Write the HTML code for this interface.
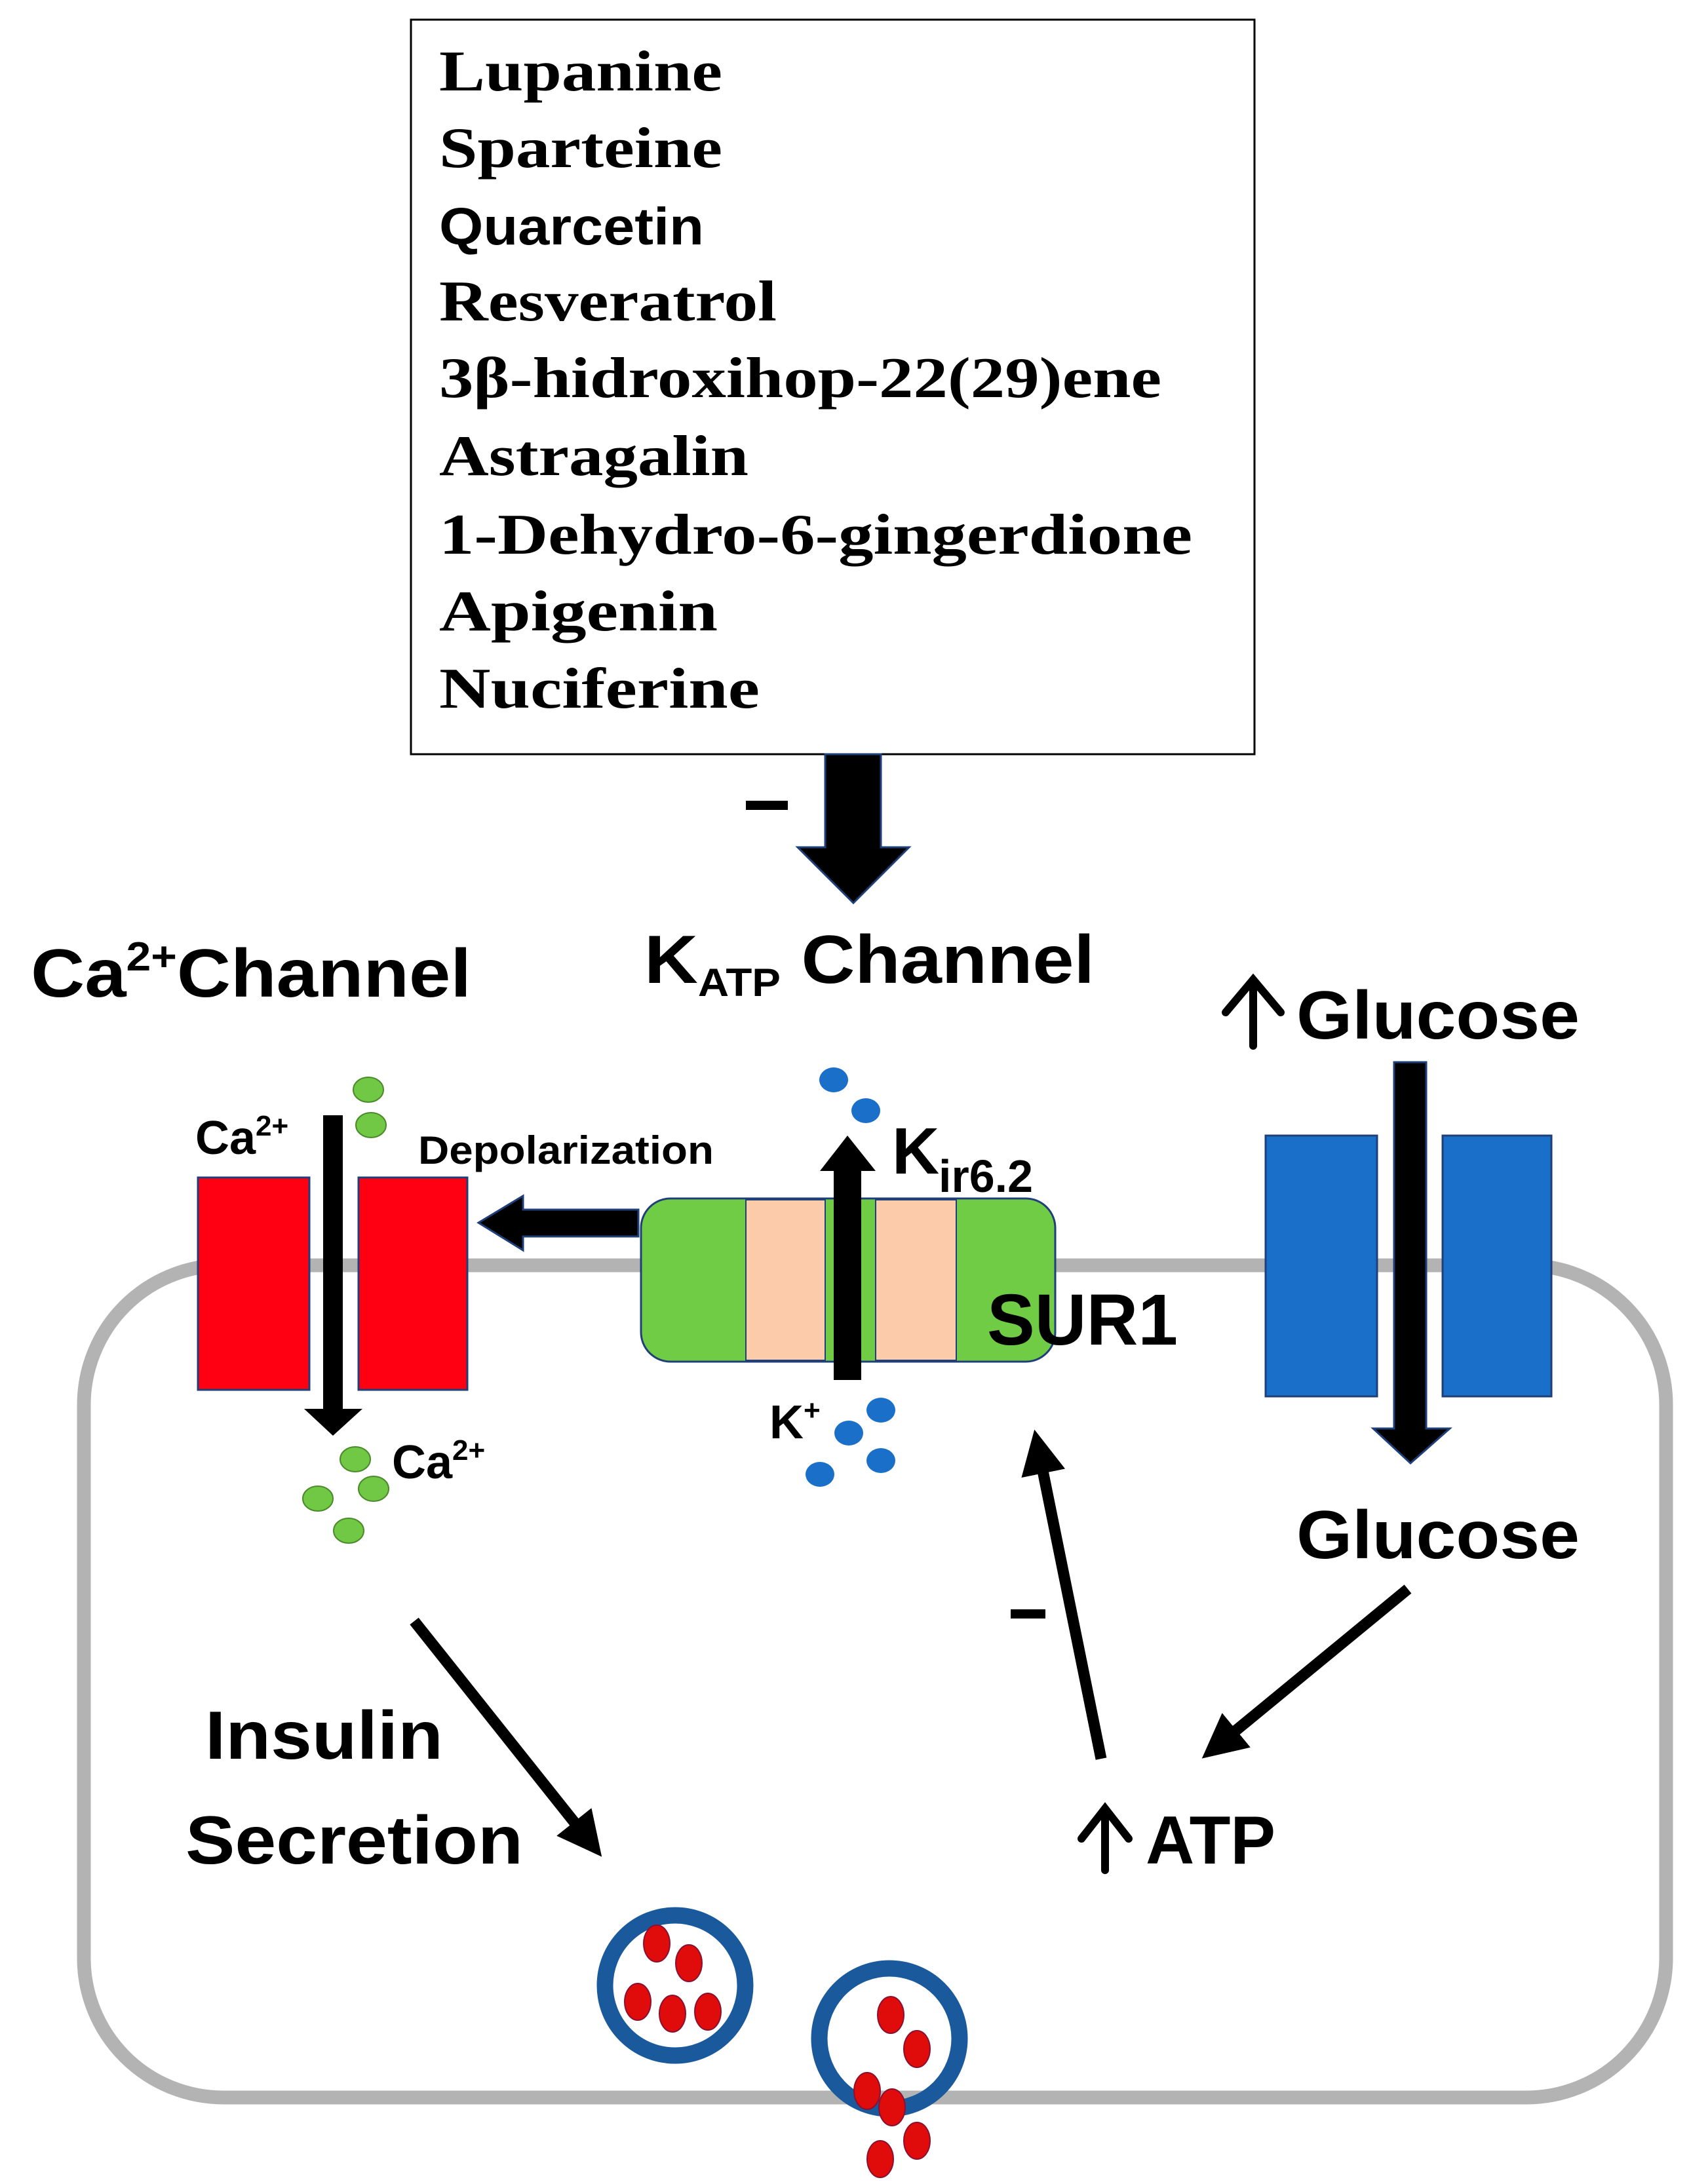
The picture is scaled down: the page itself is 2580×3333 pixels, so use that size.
<!DOCTYPE html>
<html><head><meta charset="utf-8"><style>
html,body{margin:0;padding:0;background:#fff}
svg{display:block}
.s{font-family:"Liberation Serif",serif;font-weight:bold;font-size:88px;fill:#000}
.b{font-family:"Liberation Sans",sans-serif;font-weight:bold;fill:#000}
</style></head><body>
<svg width="2580" height="3333" viewBox="0 0 2580 3333" xmlns="http://www.w3.org/2000/svg">
<rect x="627" y="30" width="1287" height="1121" fill="#fff" stroke="#000" stroke-width="3"/>
<text class="s" x="670" y="138" textLength="432" lengthAdjust="spacingAndGlyphs">Lupanine</text>
<text class="s" x="670" y="255" textLength="432" lengthAdjust="spacingAndGlyphs">Sparteine</text>
<text class="b" x="670" y="373" font-size="80" textLength="404" lengthAdjust="spacingAndGlyphs">Quarcetin</text>
<text class="s" x="670" y="489" textLength="515" lengthAdjust="spacingAndGlyphs">Resveratrol</text>
<text class="s" x="670" y="606" textLength="1102" lengthAdjust="spacingAndGlyphs">3β-hidroxihop-22(29)ene</text>
<text class="s" x="670" y="725" textLength="472" lengthAdjust="spacingAndGlyphs">Astragalin</text>
<text class="s" x="670" y="845" textLength="1149" lengthAdjust="spacingAndGlyphs">1-Dehydro-6-gingerdione</text>
<text class="s" x="670" y="962" textLength="425" lengthAdjust="spacingAndGlyphs">Apigenin</text>
<text class="s" x="670" y="1080" textLength="489" lengthAdjust="spacingAndGlyphs">Nuciferine</text>
<polygon points="1259,1151 1344,1151 1344,1293 1387,1293 1302,1378 1217,1293 1259,1293" fill="#000" stroke="#1f3f7a" stroke-width="3"/>
<rect x="1138" y="1222" width="64" height="14" fill="#000"/>
<text class="b" x="47" y="1521" font-size="104" textLength="672" lengthAdjust="spacingAndGlyphs">Ca<tspan font-size="62" dy="-40">2+</tspan><tspan dy="40">Channel</tspan></text>
<text class="b" x="983" y="1500" font-size="104" textLength="687" lengthAdjust="spacingAndGlyphs">K<tspan font-size="60" dy="20">ATP</tspan><tspan dy="-20"> Channel</tspan></text>
<g stroke="#000" stroke-width="12" fill="none" stroke-linecap="round">
<path d="M1912,1596 L1912,1495 M1870,1545 L1912,1495 L1954,1545"/>
<path d="M1686,2854 L1686,2760 M1650,2806 L1686,2760 L1722,2806"/>
</g>
<text class="b" x="1978" y="1585" font-size="104" textLength="432" lengthAdjust="spacingAndGlyphs">Glucose</text>
<rect x="128" y="1931" width="2414" height="1270" rx="213" ry="213" fill="none" stroke="#b3b3b3" stroke-width="21"/>
<rect x="302" y="1797" width="170" height="324" fill="#ff0013" stroke="#1f3f7a" stroke-width="3"/>
<rect x="547" y="1797" width="166" height="324" fill="#ff0013" stroke="#1f3f7a" stroke-width="3"/>
<polygon points="493,1702 523,1702 523,2150 553,2150 508,2191 464,2150 493,2150" fill="#000"/>
<g fill="#70c844" stroke="#4a8a2a" stroke-width="2">
<ellipse cx="562" cy="1663" rx="23" ry="19"/><ellipse cx="566" cy="1717" rx="23" ry="19"/>
<ellipse cx="542" cy="2227" rx="23" ry="19"/><ellipse cx="570" cy="2272" rx="23" ry="19"/>
<ellipse cx="485" cy="2287" rx="23" ry="19"/><ellipse cx="532" cy="2336" rx="23" ry="19"/>
</g>
<text class="b" x="298" y="1761" font-size="72">Ca<tspan font-size="44" dy="-28">2+</tspan></text>
<text class="b" x="598" y="2256" font-size="72">Ca<tspan font-size="44" dy="-28">2+</tspan></text>
<text class="b" x="638" y="1776" font-size="60" textLength="451" lengthAdjust="spacingAndGlyphs">Depolarization</text>
<polygon points="974,1846 974,1887 798,1887 798,1908 730,1866 798,1825 798,1846" fill="#000" stroke="#1f3f7a" stroke-width="3"/>
<rect x="978" y="1829" width="632" height="249" rx="45" ry="45" fill="#70cc44" stroke="#1f3f7a" stroke-width="3"/>
<rect x="1138" y="1831" width="121" height="245" fill="#fccbaa" stroke="#1f3f7a" stroke-width="2"/>
<rect x="1336" y="1831" width="123" height="245" fill="#fccbaa" stroke="#1f3f7a" stroke-width="2"/>
<polygon points="1272,2106 1314,2106 1314,1787 1336,1787 1293,1733 1251,1787 1272,1787" fill="#000"/>
<g fill="#1a6fc9">
<ellipse cx="1272" cy="1648" rx="22" ry="19"/><ellipse cx="1321" cy="1695" rx="22" ry="19"/>
<ellipse cx="1344" cy="2152" rx="22" ry="19"/><ellipse cx="1295" cy="2187" rx="22" ry="19"/>
<ellipse cx="1344" cy="2229" rx="22" ry="19"/><ellipse cx="1251" cy="2250" rx="22" ry="19"/>
</g>
<text class="b" x="1174" y="2195" font-size="72">K<tspan font-size="44" dy="-28">+</tspan></text>
<text class="b" x="1361" y="1791" font-size="100">K</text>
<text class="b" x="1432" y="1819" font-size="70">ir6.2</text>
<text class="b" x="1506" y="2052" font-size="110" textLength="291" lengthAdjust="spacingAndGlyphs">SUR1</text>
<rect x="1931" y="1733" width="170" height="398" fill="#1a6fc9" stroke="#1f3f7a" stroke-width="3"/>
<rect x="2201" y="1733" width="166" height="398" fill="#1a6fc9" stroke="#1f3f7a" stroke-width="3"/>
<polygon points="2127,1621 2176,1621 2176,2180 2212,2180 2152,2233 2095,2180 2127,2180" fill="#000" stroke="#1f3f7a" stroke-width="3"/>
<text class="b" x="1978" y="2378" font-size="104" textLength="432" lengthAdjust="spacingAndGlyphs">Glucose</text>
<defs><marker id="ah" markerWidth="4" markerHeight="4" refX="2" refY="2" orient="auto" markerUnits="strokeWidth"><path d="M0,0 L4,2 L0,4 z" fill="#000"/></marker></defs>
<line x1="2148" y1="2425" x2="1860" y2="2662" stroke="#000" stroke-width="17" marker-end="url(#ah)"/>
<line x1="1680" y1="2684" x2="1585" y2="2215" stroke="#000" stroke-width="17" marker-end="url(#ah)"/>
<line x1="632" y1="2474" x2="897" y2="2807" stroke="#000" stroke-width="17" marker-end="url(#ah)"/>
<rect x="1542" y="2456" width="53" height="14" fill="#000"/>
<text class="b" x="1748" y="2844" font-size="104" textLength="198" lengthAdjust="spacingAndGlyphs">ATP</text>
<text class="b" x="313" y="2684" font-size="104" textLength="363" lengthAdjust="spacingAndGlyphs">Insulin</text>
<text class="b" x="283" y="2844" font-size="104" textLength="515" lengthAdjust="spacingAndGlyphs">Secretion</text>
<g transform="translate(0,20)">
<circle cx="1030" cy="3010" r="107" fill="none" stroke="#1a5a9c" stroke-width="25"/>
<g fill="#e00c0c" stroke="#8a1030" stroke-width="2">
<ellipse cx="1002" cy="2946" rx="20" ry="28"/><ellipse cx="1051" cy="2976" rx="20" ry="28"/>
<ellipse cx="973" cy="3035" rx="20" ry="28"/><ellipse cx="1026" cy="3053" rx="20" ry="28"/>
<ellipse cx="1080" cy="3050" rx="20" ry="28"/>
</g></g>
<g transform="translate(0,14)">
<circle cx="1357" cy="3097" r="107" fill="none" stroke="#1a5a9c" stroke-width="25"/>
<g fill="#e00c0c" stroke="#8a1030" stroke-width="2">
<ellipse cx="1359" cy="3061" rx="20" ry="28"/><ellipse cx="1399" cy="3113" rx="20" ry="28"/>
<ellipse cx="1323" cy="3177" rx="20" ry="28"/><ellipse cx="1361" cy="3202" rx="20" ry="28"/>
<ellipse cx="1399" cy="3253" rx="20" ry="28"/><ellipse cx="1343" cy="3281" rx="20" ry="28"/>
</g></g>
</svg>
</body></html>
